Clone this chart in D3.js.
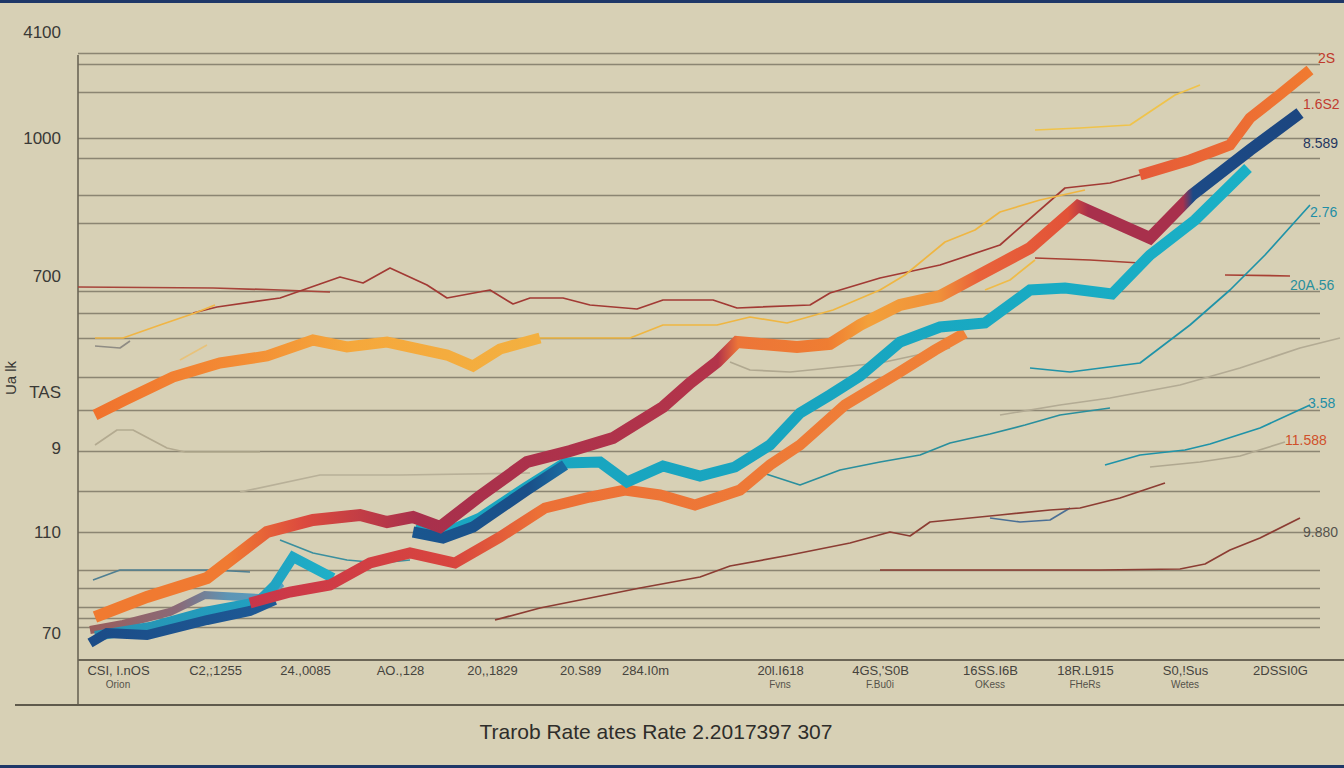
<!DOCTYPE html>
<html>
<head>
<meta charset="utf-8">
<script src="https://cdn.jsdelivr.net/npm/d3@7/dist/d3.min.js"></script>
<style>
  body { margin: 0; background: #d7d0b5; }
  svg { display: block; font-family: "Liberation Sans", Arial, sans-serif; }
</style>
</head>
<body>
<svg id="chart" width="1344" height="768"></svg>
<script>
// ---- data (period index, rate index) ----
const xTickVals = [8, 27.4, 45.4, 64.4, 82.8, 100.4, 113.4, 140.4, 160.4, 182.4, 201.4, 221.4, 240.4];
const xTickLabels = ['CSI, I.nOS', 'C2,;1255', '24.,0085', 'AO.,128', '20,,1829', '20.S89', '284.I0m',
                     '20l.I618', '4GS,\'S0B', '16SS.I6B', '18R.L915', 'S0,!Sus', '2DSSI0G'];
const xSubLabels = ['Orion', '', '', '', '', '', '', 'Fvns', 'F.Bu0i', 'OKess', 'FHeRs', 'Wetes', ''];

const yTickVals = [125.6, 104.4, 76.8, 53.6, 42.4, 25.6, 5.4];
const yTickLabels = ['4100', '1000', '700', 'TAS', '9', '110', '70'];

const gridVals = [121.4, 119.2, 113.6, 104.4, 100.4, 93, 87.4, 73.8, 69.4, 64.4, 56.6, 50, 41.8,
                  33.8, 25.6, 18, 14.4, 10.6, 8.4, 6.6];

// thick ribbons
const seriesA = [[3.4,49],[9.4,52],[19,56.6],[28.4,59.4],[37.8,60.8],[47,64],[53.8,62.6],[61.8,63.6],
                 [73.8,61],[79,58.8],[84.4,62.2],[92.4,64.4]];
const seriesB = [[3.4,8.6],[13.8,12.6],[25.8,16.4],[37.8,25.6],[47,28],[56.4,29],[61.8,27.6],[67,28.6],
                 [72.4,26.6],[80.4,32.8],[89.8,39.6],[98.4,41.8],[107,44.4],[117,50.6],[122.4,55.4],
                 [127.8,59.6],[131.8,63.6],[143.8,62.6],[150.4,63.2],[156.4,67],[164.4,71],[172.4,72.8],
                 [181.4,77.6],[190.4,82.4],[200,90.8],[214.4,84.4],[222.8,93],[234.4,102],[244.4,109.4]];
const seriesC = [[34.4,11.4],[42.4,13.6],[50.4,15],[58.4,19.4],[66.4,21.4],[75.4,19.4],[84.4,24.6],
                 [93.4,30.4],[102.4,32.6],[109.4,34],[116.4,33],[123.4,31],[132.4,34],[138.4,39],
                 [144.4,43],[153.4,51],[163.4,57],[171.4,62],[177.4,65.4]];
const seriesD = [[3.4,4.8],[14.4,6.6],[25.4,9.6],[36,11.6],[39.4,15],[43,20.6],[51,16.4]];
const seriesD2 = [[67.4,26],[72.4,25],[80.4,28.4],[89.4,34.4],[97.4,39.4],[104.4,39.6],[109.8,35.6],
                  [117,38.8],[124.4,36.8],[131.4,38.6],[138.4,43],[144.4,49.4],[150.4,53],[156.4,56.8],
                  [164.4,63.6],[172.4,66.6],[181.4,67.4],[190.4,74],[197.4,74.4],[206.8,73.2],
                  [214.4,81],[223.4,88],[234,98.4]];
const seriesE = [[2.4,3.4],[5.8,5.4],[13.8,5],[25.8,8],[34.4,9.8],[39.4,12]];
const seriesE2 = [[67,25.6],[73,24.4],[79,26.6],[89.8,34],[97.4,39]];
const seriesF = [[2.4,6],[9,7.2],[18.4,9.6],[25.4,13],[36.4,12.4],[40.8,15.4]];
const seriesG = [[212.4,97],[222.4,100],[230.4,103],[234.4,108.4],[240,112.8],[246.4,118]];

// thin lines
const thinRed1 = [[0,74.6],[27,74.4],[40.4,74],[50.4,73.6]];
const thinRed2 = [[23,69.4],[27.8,70.6],[40.4,72.4],[52.4,76.6],[57,75.4],[62.4,78.4],[69.8,75],[73.8,72.4],
                  [82.4,74],[87,71.2],[90.4,72.4],[97,72.4],[102.4,71],[111.8,70.2],[117,72],[127,72],
                  [131.8,70.4],[146.4,71],[150.4,73.4],[160.4,76.4],[172.4,79],[184.4,83],[197.4,94.4],
                  [206.4,95.4],[214.4,97.6]];
const thinRed3 = [[191.4,80.4],[202.4,80],[212.4,79.4]];
const thinRed4 = [[229.4,77],[242.4,76.8]];
const thinYellow1 = [[3.4,64.4],[9,64.4],[16.4,67],[23.4,69.4],[27.4,71]];
const thinYellow2 = [[20.4,60],[25.8,63]];
const thinYellow3 = [[92.4,64.4],[110.4,64.4],[117,67],[127.8,67],[134.4,68.6],[141.8,67.4],[151,70],
                     [160.4,74],[165.4,77],[173.4,83.6],[179.4,86],[184.4,89.6],[192.4,92],[201.4,94]];
const thinYellow4 = [[191.4,106],[200.4,106.4],[210.4,107],[216.4,111],[219.4,113],[224.4,115]];
const thinYellow5 = [[181.4,74],[186.4,76],[191.4,80]];
const thinTeal1 = [[190.4,58.4],[198.4,57.6],[212.4,59.4],[222.4,67],[230.4,74],[237.4,81],[246.4,91]];
const thinTeal2 = [[137,37.4],[144.4,35],[152.4,38],[160.4,39.6],[168.4,41],[174.4,43.4],[182.4,45.2],
                   [189.4,47],[196.4,49],[206.4,50.4]];
const thinTeal3 = [[205.4,39],[212.4,41],[221.4,42],[226.4,43.2],[236.4,46.4],[246.4,51]];
const thinTeal4 = [[40.4,24],[47,21.4],[53.8,20],[60.4,19.4],[66.4,20]];
const thinSteel = [[3,16],[8.4,18],[27,18],[34.4,17.6]];
const thinBlue = [[182.4,28.4],[188.4,27.6],[194.4,28],[198.4,30.4]];
const thinBrown1 = [[83.4,8],[92.4,10.4],[102.4,12.4],[112.4,14.4],[124.4,16.6],[130.4,18.8],[142.4,21],
                    [154.4,23.4],[162.4,25.6],[166.4,24.8],[170.4,27.6],[184.4,29],[194.4,30],[200.4,30.4],
                    [208.4,32.4],[217.4,35.4]];
const thinBrown2 = [[160.4,18],[184.4,18],[204.4,18],[220.4,18.2],[225.4,19.2],[230.4,22],[236.4,24.4],[244.4,28.4]];
const faint1 = [[184.4,49],[196.4,51],[206.4,52.4],[220.4,55],[232.4,58.4],[244.4,62.4],[252.4,64.4]];
const faint2 = [[214.4,38.6],[224.4,39.6],[232.4,40.8],[241.4,43.6]];
const faint3 = [[3.4,43],[7.8,46],[11,46],[17.8,42.4],[21.4,41.6],[36.4,41.6]];
const faint4 = [[32.4,33.6],[48.4,37],[64.4,37],[90.4,37.4]];
const faint5 = [[130.4,59.6],[134.4,58],[142.4,57.6],[160.4,59.4],[174.4,62.4]];
const grey1 = [[3.4,62.8],[8.4,62.4],[10.4,63.8]];

const endLabels = [
  [248, 120.4, '2S'], [245, 111.2, '1.6S2'], [245, 103.4, '8.589'], [246.4, 89.6, '2.76'],
  [242.4, 75, '20A.56'], [246, 51.4, '3.58'], [241.4, 44, '11.588'], [245, 25.6, '9.880']
];

// ---- styles ----
const thinStyles = [
  { d: faint3, c: '#b3aa90' }, { d: faint4, c: '#b8b098' }, { d: faint5, c: '#b0a890' },
  { d: faint1, c: '#b3ab94' }, { d: faint2, c: '#b0a890' }, { d: grey1, c: '#8f8c84' },
  { d: thinSteel, c: '#4f7f92' }, { d: thinTeal4, c: '#3b8f9e' },
  { d: thinRed1, c: '#a7443a' }, { d: thinRed2, c: '#a23a34' }, { d: thinRed3, c: '#a84034' },
  { d: thinRed4, c: '#a84034' },
  { d: thinYellow1, c: '#f0b545' }, { d: thinYellow2, c: '#e8c27a' }, { d: thinYellow3, c: '#efb642' },
  { d: thinYellow4, c: '#f0c34a' }, { d: thinYellow5, c: '#efbb48' },
  { d: thinTeal1, c: '#1f93a8' }, { d: thinTeal2, c: '#2a8f9d' }, { d: thinTeal3, c: '#1f93a8' },
  { d: thinBlue, c: '#4a6f95' },
  { d: thinBrown1, c: '#8c3d33' }, { d: thinBrown2, c: '#8c3d33' }
];

const thickStyles = [
  { id: 'gF', d: seriesF, w: 8, stops: [[0, '#9c5c58'], [20, '#8a6a78'], [30, '#5d95b5'], [41, '#5aa0c0']] },
  { id: 'gD', d: seriesD, w: 10, stops: [[0, '#2a8fb0'], [35, '#21a0c0'], [51, '#1eb0c8']] },
  { id: 'gE', d: seriesE, w: 10, stops: [[0, '#1b4b86'], [40, '#1e5a96']] },
  { id: 'gA', d: seriesA, w: 11, stops: [[0, '#f06f2c'], [30, '#f38a34'], [55, '#f5a83c'], [92, '#f3b040']] },
  { id: 'gC', d: seriesC, w: 11, stops: [[34, '#c9364a'], [75, '#d8453e'], [92, '#ec7036'], [178, '#f08238']] },
  { id: 'gD2', d: seriesD2, w: 11, stops: [[67, '#1aa6c0'], [150, '#18a5c0'], [234, '#1ab0c6']] },
  { id: 'gE2', d: seriesE2, w: 11, stops: [[67, '#1a568f'], [90, '#1a4f88'], [97, '#1a6aa0']] },
  { id: 'gB', d: seriesB, w: 12, stops: [[0, '#f07a30'], [30, '#f07a32'], [45, '#dc4a3e'], [68, '#a8304c'],
      [128, '#b3344a'], [132, '#ec7538'], [150, '#ef7d32'], [158, '#f3a03a'], [172, '#f0923a'],
      [180, '#e9623a'], [198, '#e25338'], [202, '#a8304c'], [221, '#a8304c'], [223, '#1c4a86'], [245, '#1c4680']] },
  { id: 'gG', d: seriesG, w: 11, stops: [[212, '#e55a38'], [230, '#ec6a34'], [246, '#f07a30']] }
];

const labelColors = ['#c0392b', '#c13b30', '#24365f', '#1f8ea6', '#2a8f9d', '#1f8ea6', '#d0502a', '#55534d'];

// ---- chart ----
const width = 1344, height = 768;
const svg = d3.select('#chart');

const x = d3.scaleLinear().domain([0, 250]).range([78, 1328]);
const y = d3.scaleLinear().domain([0, 126]).range([660, 30]);

svg.append('rect').attr('width', width).attr('height', height).attr('fill', '#d7d0b5');

// navy frame lines top and bottom
svg.append('rect').attr('x', 0).attr('y', 0).attr('width', width).attr('height', 3).attr('fill', '#1e3768');
svg.append('rect').attr('x', 0).attr('y', height - 3).attr('width', width).attr('height', 3).attr('fill', '#1e3768');

// gridlines
const grid = svg.append('g')
  .attr('transform', 'translate(78,0)')
  .call(d3.axisRight(y).tickValues(gridVals).tickSize(1242).tickFormat(''));
grid.select('.domain').remove();
grid.selectAll('line').attr('stroke', '#837c6a').attr('stroke-width', 1.6).attr('stroke-opacity', 0.9);

// y axis labels
const yAxis = svg.append('g')
  .attr('transform', 'translate(61,0)')
  .call(d3.axisLeft(y).tickValues(yTickVals).tickSize(0).tickPadding(0)
    .tickFormat((d, i) => yTickLabels[i]));
yAxis.select('.domain').remove();
yAxis.selectAll('text')
  .attr('font-size', 17).attr('fill', '#3a3936').attr('font-family', '"Liberation Sans", Arial, sans-serif');

svg.append('text')
  .attr('transform', 'translate(16,378) rotate(-90)')
  .attr('text-anchor', 'middle')
  .attr('font-size', 15).attr('fill', '#3a3936')
  .text('Ua lk');

// axis frame
svg.append('line').attr('x1', 78).attr('x2', 78).attr('y1', 55).attr('y2', 705)
  .attr('stroke', '#6b6556').attr('stroke-width', 1.6);
svg.append('line').attr('x1', 78).attr('x2', width).attr('y1', y(0)).attr('y2', y(0))
  .attr('stroke', '#6b6556').attr('stroke-width', 2);
svg.append('line').attr('x1', 15).attr('x2', width).attr('y1', 705).attr('y2', 705)
  .attr('stroke', '#5f5a4c').attr('stroke-width', 2);

// x axis labels
const xAxis = svg.append('g')
  .attr('transform', `translate(0,${y(0)})`)
  .call(d3.axisBottom(x).tickValues(xTickVals).tickSize(0).tickPadding(6)
    .tickFormat((d, i) => xTickLabels[i]));
xAxis.select('.domain').remove();
xAxis.selectAll('text')
  .attr('font-size', 13).attr('fill', '#45433d').attr('font-family', '"Liberation Sans", Arial, sans-serif');

svg.append('g').selectAll('text')
  .data(xTickVals)
  .join('text')
  .attr('x', d => x(d))
  .attr('y', y(0) + 28)
  .attr('text-anchor', 'middle')
  .attr('font-size', 10).attr('fill', '#55524a')
  .text((d, i) => xSubLabels[i]);

// lines
const line = d3.line().x(d => x(d[0])).y(d => y(d[1]));

svg.append('g').selectAll('path')
  .data(thinStyles)
  .join('path')
  .attr('d', s => line(s.d))
  .attr('fill', 'none')
  .attr('stroke', s => s.c)
  .attr('stroke-width', 1.7)
  .attr('stroke-linejoin', 'round');

const defs = svg.append('defs');
thickStyles.forEach(s => {
  const t0 = s.stops[0][0], t1 = s.stops[s.stops.length - 1][0];
  const g = defs.append('linearGradient')
    .attr('id', s.id)
    .attr('gradientUnits', 'userSpaceOnUse')
    .attr('x1', x(t0)).attr('x2', x(t1)).attr('y1', 0).attr('y2', 0);
  s.stops.forEach(st => {
    g.append('stop')
      .attr('offset', (x(st[0]) - x(t0)) / (x(t1) - x(t0)))
      .attr('stop-color', st[1]);
  });
});

svg.append('g').selectAll('path')
  .data(thickStyles)
  .join('path')
  .attr('d', s => line(s.d))
  .attr('fill', 'none')
  .attr('stroke', s => `url(#${s.id})`)
  .attr('stroke-width', s => s.w)
  .attr('stroke-linejoin', 'miter')
  .attr('stroke-miterlimit', 3)
  .attr('stroke-linecap', 'butt');

// right-hand value labels
svg.append('g').selectAll('text')
  .data(endLabels)
  .join('text')
  .attr('x', d => x(d[0]))
  .attr('y', d => y(d[1]))
  .attr('dy', '0.35em')
  .attr('font-size', 14)
  .attr('fill', (d, i) => labelColors[i])
  .text(d => d[2]);

// title
svg.append('text')
  .attr('x', 656).attr('y', 739)
  .attr('text-anchor', 'middle')
  .attr('font-size', 21).attr('fill', '#2e2d2a')
  .text('Trarob Rate ates Rate 2.2017397 307');
</script>
</body>
</html>
